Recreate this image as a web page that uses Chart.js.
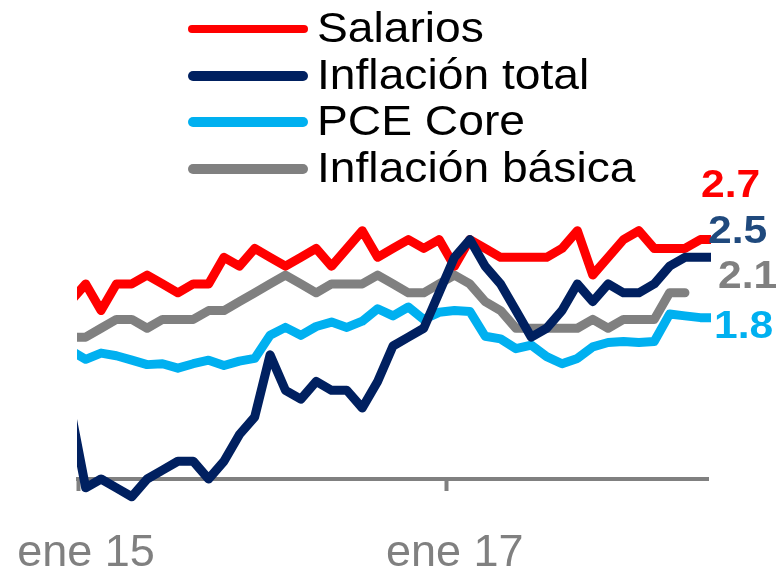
<!DOCTYPE html>
<html>
<head>
<meta charset="utf-8">
<script src="https://cdn.jsdelivr.net/npm/chart.js@4.4.1/dist/chart.umd.min.js"></script>
<style>
  body { margin: 0; background: #fff; }
  #wrap { position: relative; width: 782px; height: 570px; font-family: "Liberation Sans", Arial, sans-serif; }
  #chart { position: absolute; left: 0; top: 0; }
  .legend-line { position: absolute; left: 188px; width: 120px; border-radius: 6px; }
  .legend-label { position: absolute; left: 317px; font-size: 42px; line-height: 42px; color: #000;
                  white-space: nowrap; transform: scaleX(1.1); transform-origin: left center; }
  .end-label { position: absolute; font-size: 38px; line-height: 38px; font-weight: bold;
               white-space: nowrap; transform: scaleX(1.12); transform-origin: left center; }
</style>
</head>
<body>
<div id="wrap">
  <canvas id="chart" width="782" height="570"></canvas>
  <div id="legend"></div>
  <div id="endLabels"></div>
</div>
<script>
// monthly, dic 14 .. jun 18 (dic 14 sits just left of the axis and gets clipped)
const months = [
  "dic 14",
  "ene 15","feb 15","mar 15","abr 15","may 15","jun 15","jul 15","ago 15","sep 15","oct 15","nov 15","dic 15",
  "ene 16","feb 16","mar 16","abr 16","may 16","jun 16","jul 16","ago 16","sep 16","oct 16","nov 16","dic 16",
  "ene 17","feb 17","mar 17","abr 17","may 17","jun 17","jul 17","ago 17","sep 17","oct 17","nov 17","dic 17",
  "ene 18","feb 18","mar 18","abr 18","may 18","jun 18"
];
const tickLabels = ["ene 15", "ene 17"];

const salarios = [2.0,
  2.2, 1.9, 2.2, 2.2, 2.3, 2.2, 2.1, 2.2, 2.2, 2.5, 2.4, 2.6,
  2.5, 2.4, 2.5, 2.6, 2.4, 2.6, 2.8, 2.5, 2.6, 2.7, 2.6, 2.7,
  2.4, 2.7, 2.6, 2.5, 2.5, 2.5, 2.5, 2.6, 2.8, 2.3, 2.5, 2.7,
  2.8, 2.6, 2.6, 2.6, 2.7, 2.7];
const inflacionTotal = [0.8,
  -0.1, 0.0, -0.1, -0.2, 0.0, 0.1, 0.2, 0.2, 0.0, 0.2, 0.5, 0.7,
  1.4, 1.0, 0.9, 1.1, 1.0, 1.0, 0.8, 1.1, 1.5, 1.6, 1.7, 2.1,
  2.5, 2.7, 2.4, 2.2, 1.9, 1.6, 1.7, 1.9, 2.2, 2.0, 2.2, 2.1,
  2.1, 2.2, 2.4, 2.5, 2.5, 2.5];
const pceCore = [1.45,
  1.35, 1.42, 1.39, 1.34, 1.29, 1.30, 1.25, 1.30, 1.34, 1.28, 1.33, 1.36,
  1.62, 1.71, 1.62, 1.72, 1.77, 1.71, 1.78, 1.92, 1.84, 1.94, 1.80, 1.88,
  1.90, 1.89, 1.61, 1.58, 1.47, 1.51, 1.38, 1.30, 1.36, 1.49, 1.54, 1.55,
  1.54, 1.55, 1.86, 1.84, 1.82, 1.82];
const inflacionBasica = [1.6,
  1.6, 1.7, 1.8, 1.8, 1.7, 1.8, 1.8, 1.8, 1.9, 1.9, 2.0, 2.1,
  2.2, 2.3, 2.2, 2.1, 2.2, 2.2, 2.2, 2.3, 2.2, 2.1, 2.1, 2.2,
  2.3, 2.2, 2.0, 1.9, 1.7, 1.7, 1.7, 1.7, 1.7, 1.8, 1.7, 1.8,
  1.8, 1.8, 2.1, 2.1];

const seriesNames = ["Salarios", "Inflación total", "PCE Core", "Inflación básica"];
const seriesData = [salarios, inflacionTotal, pceCore, inflacionBasica];
const lineColors = ["#FF0000", "#002060", "#00B0F0", "#808080"];
const labelColors = ["#FF0000", "#1F497D", "#00B0F0", "#808080"];
const drawOrder = [1, 0, 2, 3];           // navy line sits on top
const legendThickness = [8, 10, 10, 10];

// month index: ene 15 = 0
const toPoints = arr => arr.map((v, i) => ({ x: i - 1, y: v }));
const tickValues = tickLabels.map(l => months.indexOf(l) - 1 - 0.5); // category boundary

const font = '"Liberation Sans", Arial, sans-serif';

const chart = new Chart(document.getElementById("chart").getContext("2d"), {
  type: "line",
  data: {
    datasets: seriesNames.map((name, i) => ({
      label: name,
      data: toPoints(seriesData[i]),
      borderColor: lineColors[i],
      borderWidth: 9,
      borderCapStyle: "round",
      borderJoinStyle: "round",
      pointRadius: 0,
      tension: 0,
      order: drawOrder[i],
      clip: { left: 1, top: false, right: 3, bottom: false }
    }))
  },
  options: {
    responsive: false,
    animation: false,
    layout: { padding: { left: 78, right: 74, top: 213, bottom: 0 } },
    plugins: { legend: { display: false }, tooltip: { enabled: false } },
    scales: {
      x: {
        type: "linear",
        min: -0.5,
        max: 40.5,
        afterBuildTicks: s => { s.ticks = tickValues.map(v => ({ value: v })); },
        afterFit: s => { s.height = 91; s.paddingLeft = 0; s.paddingRight = 0; },
        ticks: {
          autoSkip: false,
          maxRotation: 0,
          labelOffset: 8,
          padding: 36,
          color: "#808080",
          font: { family: font, size: 45 },
          callback: (v, i) => tickLabels[i]
        },
        grid: { display: true, drawOnChartArea: false, drawTicks: true, tickLength: 12,
                tickWidth: 4, tickColor: "#808080", color: "#808080" },
        border: { display: true, color: "#808080", width: 4 }
      },
      y: { display: false, min: 0, max: 3 }
    }
  }
});

// custom legend (left column of lines + names)
const legendEl = document.getElementById("legend");
chart.data.datasets.forEach((ds, i) => {
  const line = document.createElement("div");
  line.className = "legend-line";
  line.style.background = ds.borderColor;
  line.style.height = legendThickness[i] + "px";
  line.style.top = (29 + 46.6 * i - legendThickness[i] / 2) + "px";
  legendEl.appendChild(line);

  const label = document.createElement("div");
  label.className = "legend-label";
  label.style.top = (7 + 46.6 * i) + "px";
  label.textContent = ds.label;
  legendEl.appendChild(label);
});

// last values written at the right end (same order as seriesNames)
const endPos = [[701, 165], [708, 211], [714, 306], [718, 256]];
const endEl = document.getElementById("endLabels");
seriesData.forEach((arr, i) => {
  const el = document.createElement("div");
  el.className = "end-label";
  el.style.left = endPos[i][0] + "px";
  el.style.top = endPos[i][1] + "px";
  el.style.color = labelColors[i];
  el.textContent = arr[arr.length - 1].toFixed(1);
  endEl.appendChild(el);
});
</script>
</body>
</html>
